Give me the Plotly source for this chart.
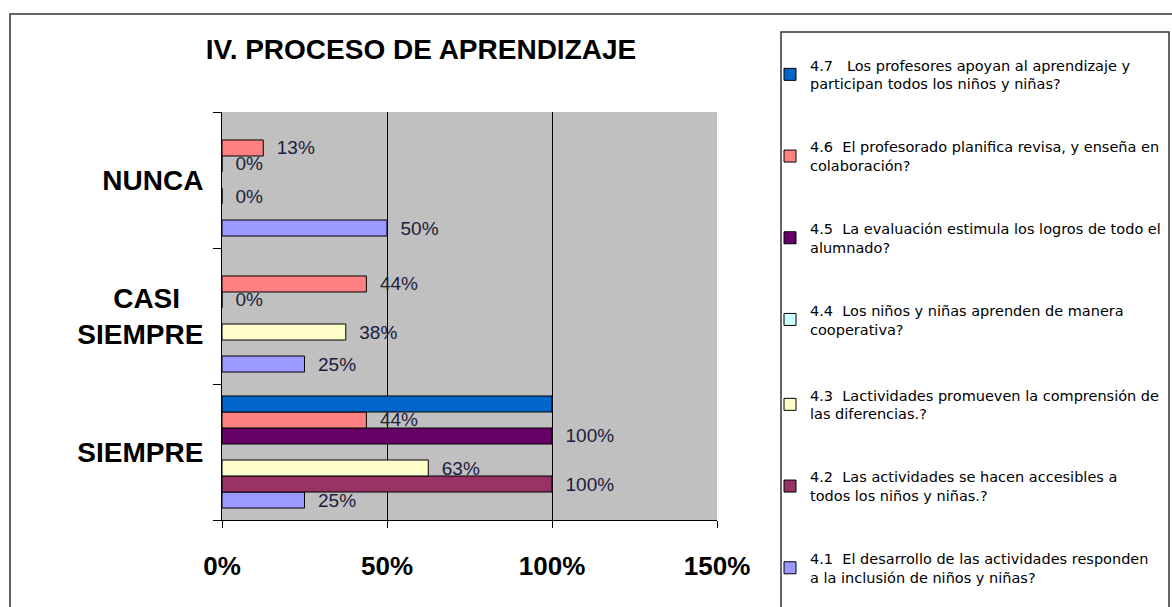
import plotly.graph_objects as go

# === Data (bottom category first) ===
categories = ["SIEMPRE", "CASI SIEMPRE", "NUNCA"]
category_labels = ["SIEMPRE", "CASI\u00a0\u00a0\u00a0<br>SIEMPRE", "NUNCA"]

series_names = [
    "4.1\u00a0\u00a0El desarrollo de las actividades responden<br>a la inclusión de niños y niñas?",
    "4.2\u00a0\u00a0Las actividades se hacen accesibles a<br>todos los niños y niñas.?",
    "4.3\u00a0\u00a0Lactividades promueven la comprensión de<br>las diferencias.?",
    "4.4\u00a0\u00a0Los niños y niñas aprenden de manera<br>cooperativa?",
    "4.5\u00a0\u00a0La evaluación estimula los logros de todo el<br>alumnado?",
    "4.6\u00a0\u00a0El profesorado planifica revisa, y enseña en<br>colaboración?",
    "4.7\u00a0\u00a0\u00a0Los profesores apoyan al aprendizaje y<br>participan todos los niños y niñas?",
]

# values per category: SIEMPRE, CASI SIEMPRE, NUNCA
v41 = [0.25, 0.25, 0.50]
v42 = [1.00, None, None]
v43 = [0.625, 0.375, 0.0]
v44 = [None, None, None]
v45 = [1.00, 0.0, 0.0]
v46 = [0.4375, 0.4375, 0.125]
v47 = [1.00, None, None]

series_values = [v41, v42, v43, v44, v45, v46, v47]
series_colors = ["#9999FF", "#993366", "#FFFFCC", "#CCFFFF", "#660066", "#FF8080", "#0066CC"]
show_labels = [True, True, True, True, True, True, False]

x_ticks = [0, 0.5, 1.0, 1.5]

# === Figure geometry ===
W, H = 1172, 607
L, R, T, B = 222, 455, 112, 87


def px_x(p):
    return (p - L) / (W - L - R)


def px_y(p):
    return (H - B - p) / (H - T - B)


fig = go.Figure()

for i, (name, vals, col) in enumerate(zip(series_names, series_values, series_colors)):
    fig.add_trace(go.Bar(
        y=categories,
        x=vals,
        orientation="h",
        name=name,
        legend="legend2" if i < 3 else "legend",
        legendgroup=f"g{i}",
        legendrank=7 - i,
        marker=dict(color=col, line=dict(color="black", width=1)),
        texttemplate="\u00a0\u00a0%{x:.0%}" if show_labels[i] else "",
        textposition="outside",
        cliponaxis=False,
        constraintext="none",
        textfont=dict(family="Liberation Sans, Arial", size=19, color="#1c1c3c"),
    ))

legend_style = dict(
    xanchor="left",
    yanchor="top",
    bgcolor="rgba(0,0,0,0)",
    traceorder="grouped",
    tracegroupgap=41,
    font=dict(family="DejaVu Sans", size=14.5, color="black"),
)

fig.update_layout(
    width=W,
    height=H,
    margin=dict(l=L, r=R, t=T, b=B, autoexpand=False),
    paper_bgcolor="white",
    plot_bgcolor="#C0C0C0",
    barmode="group",
    bargap=0.176,
    bargroupgap=0,
    title=dict(
        text="IV. PROCESO DE APRENDIZAJE",
        x=421 / W,
        xanchor="center",
        y=1 - 49 / H,
        yanchor="middle",
        font=dict(family="Liberation Sans, Arial", size=28, color="black", weight="bold"),
    ),
    legend=dict(x=px_x(770), y=px_y(49), **legend_style),
    legend2=dict(x=px_x(770), y=px_y(49 + 4 * 82.5), **legend_style),
    showlegend=True,
)

fig.update_xaxes(
    range=[0, 1.5],
    tickvals=x_ticks,
    tickformat=".0%",
    showgrid=True,
    gridcolor="black",
    gridwidth=1,
    zeroline=False,
    showline=True,
    linecolor="black",
    linewidth=1,
    ticks="outside",
    ticklen=7,
    tickcolor="black",
    ticklabelstandoff=16,
    tickfont=dict(family="Liberation Sans, Arial", size=26, color="black", weight="bold"),
)

fig.update_yaxes(
    type="category",
    categoryorder="array",
    categoryarray=categories,
    tickvals=categories,
    ticktext=category_labels,
    tickson="boundaries",
    showgrid=False,
    showline=True,
    linecolor="black",
    linewidth=1,
    ticks="outside",
    ticklen=8,
    tickcolor="black",
    ticklabelstandoff=12,
    tickfont=dict(family="Liberation Sans, Arial", size=28, color="black", weight="bold"),
)

# outer chart frame and legend frame
fig.add_shape(type="rect", xref="paper", yref="paper",
              x0=px_x(10), y0=px_y(14), x1=px_x(1200), y1=px_y(640),
              line=dict(color="#333333", width=1.5), layer="below")
fig.add_shape(type="rect", xref="paper", yref="paper",
              x0=px_x(781), y0=px_y(32), x1=px_x(1169), y1=px_y(640),
              line=dict(color="#333333", width=1.5), layer="below")

fig.write_html("out.html", config={"displayModeBar": False},
               post_script="document.body.style.margin='0';")
